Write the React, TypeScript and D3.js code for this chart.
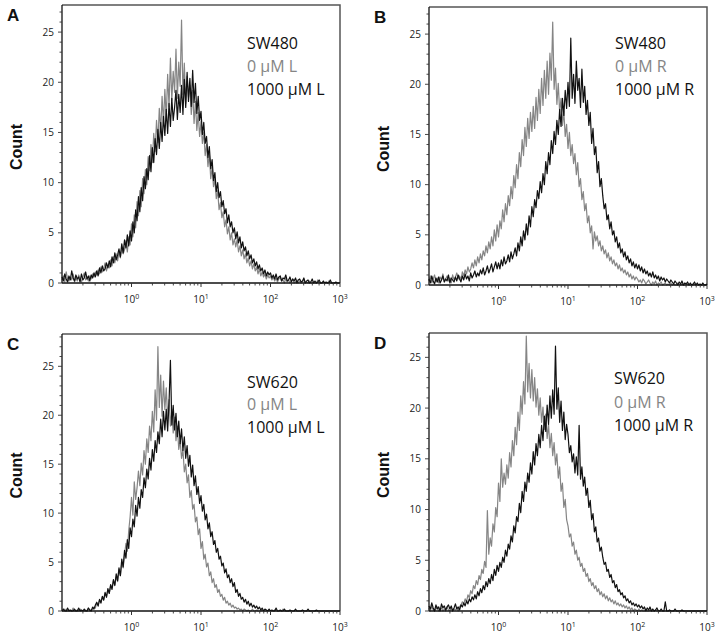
import React from "react";
import * as d3 from "d3";

// histogram channels: log10 of fluorescence, from 10^-1 to 10^3, 0.02 decade apart
const binLog = d3.range(201).map((i) => -1 + i * 0.02);

// A: SW480, L
const a0 = [
  0.3, 0.7, 0.1, 1.1, 0.4, 0.2, 0.6, 0.3, 0.9, 0.1, 0.5, 0.2, 0.8, 0.4, 0.1, 0.6, 1.0, 0.3, 0.5, 0.2, 0.7, 0.4, 0.9, 0.6, 1.1,
  0.8, 1.3, 0.9, 1.6, 1.1, 1.4, 2.0, 1.2, 1.8, 1.5, 2.3, 1.7, 2.6, 2.0, 2.9, 2.2, 3.1, 2.5, 3.6, 2.9, 3.3, 4.2, 3.1, 4.6, 3.8,
  5.9, 4.6, 6.8, 5.5, 8.1, 6.7, 9.2, 7.6, 10.4, 8.9, 11.3, 9.8, 12.6, 11.2, 13.8, 12.0, 14.9, 13.1, 16.2, 14.0, 17.4, 15.1, 18.6, 15.9, 19.3,
  16.4, 20.8, 17.6, 22.4, 18.2, 21.1, 19.0, 23.3, 18.4, 22.0, 19.6, 26.2, 18.8, 21.9, 17.9, 20.6, 18.5, 19.7, 16.8, 19.2, 15.9, 18.1, 15.2, 17.0, 14.6,
  16.1, 13.9, 15.0, 12.7, 13.8, 11.6, 12.9, 10.4, 11.5, 9.6, 10.3, 8.4, 9.2, 7.3, 8.0, 6.5, 7.1, 5.6, 6.3, 4.9, 5.6, 4.3, 5.0, 3.8, 4.4,
  3.6, 4.3, 3.1, 3.7, 2.7, 3.3, 2.4, 2.9, 2.0, 2.5, 1.7, 2.2, 1.4, 1.9, 1.2, 1.6, 0.9, 1.4, 0.7, 1.1, 0.6, 0.9, 0.4, 0.8, 0.5,
  0.7, 0.3, 0.6, 0.2, 0.5, 0.1, 0.4, 0.6, 0.2, 0.3, 0, 0.5, 0.1, 0.3, 0, 0.2, 0.4, 0, 0.1, 0.3, 0, 0.2, 0, 0.1, 0.3,
  0, 0.1, 0, 0.2, 0, 0, 0.1, 0, 0, 0.3, 0, 0, 0, 0.1, 0, 0, 0, 0.2, 0, 0, 0, 0, 0, 0, 0, 0,
];
const a1000 = [
  0.6, 0.2, 0.9, 0.4, 0.1, 0.7, 0.3, 1.2, 0.5, 0.2, 0.8, 0.4, 0.6, 0.1, 0.9, 0.3, 0.5, 1.1, 0.4, 0.7, 0.2, 0.8, 0.5, 1.0, 0.6,
  1.2, 0.7, 1.5, 1.0, 1.7, 1.2, 1.4, 2.0, 1.5, 2.2, 1.6, 2.6, 2.0, 3.0, 2.3, 2.8, 3.4, 2.6, 3.9, 3.0, 4.3, 3.5, 4.8, 3.7, 5.2,
  4.2, 6.1, 5.0, 7.3, 6.2, 8.6, 7.1, 9.5, 8.2, 10.6, 9.4, 11.4, 10.3, 12.7, 11.1, 13.5, 12.0, 14.4, 12.8, 15.3, 13.4, 16.0, 14.1, 16.6, 14.7,
  17.3, 14.9, 17.9, 15.6, 18.4, 16.2, 17.5, 19.2, 16.3, 18.8, 17.0, 19.7, 16.8, 20.3, 17.5, 21.0, 18.1, 20.4, 17.6, 21.2, 18.0, 19.9, 16.9, 18.6, 16.2,
  17.1, 14.8, 16.0, 13.9, 14.6, 12.5, 13.6, 11.4, 12.3, 10.2, 11.0, 9.1, 10.0, 8.5, 9.1, 7.6, 8.2, 6.9, 7.4, 6.0, 6.8, 5.6, 6.1, 5.0, 5.5,
  4.4, 5.1, 4.0, 4.6, 3.5, 4.1, 3.2, 3.6, 2.7, 3.2, 2.4, 2.8, 2.0, 2.4, 1.7, 2.1, 1.4, 1.8, 1.2, 1.5, 0.9, 1.3, 0.7, 1.1, 0.8,
  1.0, 0.5, 0.8, 0.4, 0.9, 0.3, 0.6, 0.7, 0.2, 0.5, 0.4, 0.8, 0.2, 0.3, 0.6, 0.1, 0.4, 0.2, 0.5, 0, 0.3, 0.4, 0.1, 0.2, 0.5,
  0, 0.2, 0.3, 0, 0.1, 0.4, 0, 0.2, 0, 0.1, 0.3, 0, 0, 0.2, 0, 0.1, 0, 0, 0.3, 0, 0, 0, 0.1, 0, 0, 0,
];

// B: SW480, R
const b0 = [
  0.4, 0.9, 0.2, 0.6, 1.0, 0.3, 0.7, 0.2, 0.8, 0.5, 1.1, 0.3, 0.6, 0.9, 0.4, 0.7, 0.2, 1.0, 0.5, 0.8, 1.2, 0.6, 0.9, 0.5, 1.3,
  0.9, 1.5, 1.1, 1.8, 1.3, 1.6, 2.2, 1.7, 2.5, 1.9, 2.8, 2.2, 3.1, 2.5, 3.4, 2.9, 3.9, 3.2, 4.3, 3.6, 4.8, 3.9, 5.5, 4.4, 6.0,
  4.8, 6.4, 5.6, 7.5, 6.3, 8.1, 7.0, 8.9, 7.9, 9.8, 8.6, 10.9, 9.7, 12.0, 10.6, 13.2, 11.8, 14.5, 12.9, 15.7, 13.8, 16.6, 14.6, 17.2, 15.3,
  17.8, 15.6, 18.7, 16.4, 19.5, 17.1, 20.6, 17.9, 21.4, 18.6, 22.3, 19.0, 23.1, 20.4, 26.2, 19.5, 21.6, 18.0, 20.1, 17.2, 18.6, 15.9, 17.3, 14.8, 16.0,
  13.6, 15.2, 12.9, 14.0, 12.1, 13.1, 11.0, 12.2, 9.8, 10.6, 8.5, 9.3, 7.4, 8.1, 6.2, 6.9, 5.2, 5.9, 3.6, 5.3, 4.4, 4.9, 3.9, 4.4, 3.4,
  3.9, 3.1, 3.5, 2.7, 3.2, 2.4, 2.8, 2.1, 2.5, 1.9, 2.2, 1.6, 2.0, 1.4, 1.7, 1.2, 1.5, 1.0, 1.3, 0.8, 1.1, 0.6, 0.9, 0.5, 0.8,
  0.6, 0.3, 0.5, 0.2, 0.6, 0.4, 0.1, 0.3, 0.5, 0.2, 0, 0.3, 0.1, 0.4, 0, 0.2, 0.1, 0.3, 0, 0.1, 0.2, 0, 0.1, 0, 0.2,
  0, 0.1, 0, 0, 0.2, 0, 0, 0.1, 0, 0, 0, 0.1, 0, 0, 0, 0, 0.1, 0, 0, 0, 0, 0, 0, 0, 0, 0,
];
const b1000 = [
  0.6, 0.2, 0.9, 0.4, 0.1, 0.7, 0.3, 0.8, 0.2, 0.5, 0.9, 0.3, 0.6, 0.4, 1.0, 0.2, 0.7, 0.5, 0.3, 0.8, 0.4, 1.0, 0.6, 0.3, 0.9,
  0.5, 1.1, 0.6, 0.9, 0.4, 1.2, 0.7, 1.0, 1.4, 0.8, 1.2, 0.9, 1.5, 1.1, 1.7, 1.0, 1.4, 1.9, 1.2, 1.6, 2.1, 1.3, 1.8, 2.3, 1.6,
  2.2, 1.6, 2.5, 1.9, 2.8, 2.1, 2.4, 3.0, 2.3, 3.3, 2.6, 3.1, 3.7, 2.9, 4.2, 3.4, 4.8, 3.9, 5.4, 4.5, 6.1, 5.0, 6.9, 5.8, 7.8,
  6.8, 8.5, 7.7, 9.4, 8.6, 10.3, 9.2, 11.1, 10.0, 12.3, 11.1, 13.2, 12.0, 14.4, 13.1, 15.3, 14.0, 16.4, 15.0, 17.5, 15.8, 18.6, 16.9, 19.4, 17.6,
  20.2, 17.8, 24.6, 18.6, 21.0, 18.1, 22.3, 19.4, 20.6, 17.7, 21.5, 18.2, 19.8, 17.0, 18.4, 15.9, 17.2, 14.1, 15.6, 13.0, 13.8, 11.2, 12.3, 9.8, 10.6,
  8.9, 7.6, 8.1, 6.5, 7.0, 5.6, 6.3, 5.0, 5.4, 4.3, 4.8, 3.7, 4.2, 3.2, 3.6, 2.8, 3.3, 2.5, 2.9, 2.2, 2.6, 1.9, 2.3, 1.7, 2.1,
  1.6, 2.0, 1.4, 1.8, 1.2, 1.6, 1.1, 1.4, 0.9, 1.2, 0.8, 1.3, 0.7, 1.0, 0.6, 0.9, 0.4, 0.8, 0.5, 0.7, 0.3, 0.6, 0.4, 0.2, 0.5,
  0.3, 0.1, 0.4, 0.2, 0, 0.3, 0.1, 0.4, 0, 0.2, 0.1, 0.3, 0, 0.2, 0, 0.1, 0.3, 0, 0.2, 0, 0.1, 0, 0.2, 0, 0, 0.1,
];

// C: SW620, L
const c0 = [
  0, 0, 0.2, 0, 0, 0.1, 0, 0, 0.3, 0, 0, 0.1, 0, 0.2, 0, 0, 0, 0.1, 0, 0.3, 0, 0.1, 0.2, 0.4, 0.3,
  0.8, 0.6, 1.1, 0.9, 1.4, 1.2, 1.8, 1.5, 2.1, 1.8, 2.6, 2.4, 3.1, 2.7, 3.5, 3.0, 4.2, 3.6, 4.9, 4.4, 5.8, 6.9, 6.1, 8.2, 9.6,
  11.6, 9.8, 13.2, 11.4, 12.6, 14.3, 12.8, 15.1, 13.9, 16.4, 15.0, 17.6, 16.2, 18.9, 17.4, 20.4, 18.3, 22.6, 19.5, 27.0, 20.8, 24.1, 19.9, 23.5, 20.6,
  22.8, 19.7, 21.6, 18.9, 20.6, 18.2, 19.8, 17.4, 18.9, 16.5, 17.4, 15.6, 16.5, 14.2, 15.0, 13.1, 13.9, 11.6, 12.3, 10.4, 10.9, 9.1, 9.6, 7.8, 8.4,
  6.4, 7.1, 5.3, 5.8, 4.5, 4.9, 3.6, 4.0, 2.9, 3.3, 2.4, 2.7, 1.9, 2.2, 1.5, 1.7, 1.1, 1.4, 0.8, 1.0, 0.6, 0.8, 0.4, 0.6, 0.3,
  0.4, 0.2, 0.3, 0.1, 0.2, 0, 0.2, 0.1, 0, 0.1, 0, 0, 0.2, 0, 0, 0.1, 0, 0, 0, 0.1, 0, 0, 0, 0, 0.1,
  0, 0, 0, 0.1, 0, 0, 0, 0, 0, 0.2, 0, 0, 0, 0, 0, 0, 0, 0, 0, 0, 0, 0, 0, 0, 0,
  0, 0, 0, 0, 0, 0, 0, 0, 0, 0, 0, 0, 0, 0, 0, 0, 0, 0, 0, 0, 0, 0, 0, 0, 0, 0,
];
const c1000 = [
  0, 0.2, 0, 0, 0.3, 0, 0.1, 0, 0, 0.2, 0, 0, 0.3, 0, 0.1, 0, 0.2, 0, 0, 0.3, 0.1, 0, 0.4, 0.2, 0.6,
  0.9, 0.5, 1.2, 0.8, 1.5, 1.1, 1.9, 1.4, 2.3, 1.8, 2.7, 2.2, 3.2, 2.6, 3.8, 3.1, 4.4, 3.6, 5.3, 4.5, 6.2, 5.4, 7.3, 6.4, 8.5,
  7.6, 9.4, 8.6, 10.8, 9.7, 11.6, 10.5, 12.4, 11.6, 13.6, 12.6, 14.5, 13.5, 15.6, 14.4, 16.5, 15.3, 17.4, 16.2, 18.3, 17.1, 19.6, 17.8, 20.4, 18.5,
  20.6, 18.4, 21.3, 25.6, 19.0, 21.0, 18.5, 20.2, 17.8, 19.4, 17.1, 18.6, 16.4, 17.8, 15.6, 16.9, 14.8, 15.9, 13.7, 14.9, 12.8, 13.8, 11.9, 12.7, 11.0,
  11.8, 10.2, 10.9, 9.3, 9.9, 8.4, 9.0, 7.6, 8.1, 6.8, 7.2, 6.0, 6.4, 5.3, 5.6, 4.6, 4.9, 3.9, 4.3, 3.4, 3.7, 2.9, 3.3, 2.5, 2.9,
  1.9, 2.2, 1.5, 1.8, 1.2, 1.4, 0.9, 1.2, 0.7, 1.0, 0.5, 0.8, 0.4, 0.6, 0.3, 0.5, 0.2, 0.4, 0.1, 0.3, 0, 0.2, 0.1, 0, 0.2,
  0, 0.1, 0, 0, 0.3, 0, 0, 0.1, 0, 0, 0.2, 0, 0, 0, 0.1, 0, 0, 0, 0.2, 0, 0, 0, 0, 0.1, 0,
  0, 0, 0.2, 0, 0, 0, 0, 0, 0.1, 0, 0, 0, 0, 0, 0, 0, 0, 0, 0, 0, 0, 0, 0, 0, 0, 0,
];

// D: SW620, R
const d0 = [
  0.3, 0, 0.5, 0.1, 0, 0.2, 0.4, 0, 0.1, 0.3, 0, 0.2, 0, 0.4, 0.1, 0, 0.3, 0, 0.2, 0.1, 0.3, 0, 0.4, 0.6, 0.9,
  0.7, 1.2, 0.9, 1.6, 1.3, 2.0, 1.7, 2.5, 2.2, 3.0, 2.6, 3.5, 3.1, 4.1, 3.7, 4.9, 4.3, 9.9, 5.6, 7.2, 6.4, 8.6, 7.8, 10.2, 9.3,
  12.6, 10.8, 15.0, 12.2, 13.6, 12.5, 14.4, 13.1, 15.6, 14.2, 16.8, 15.3, 18.1, 16.4, 19.6, 17.8, 21.2, 19.4, 22.6, 20.4, 27.1, 21.6, 24.4, 21.0, 23.8,
  20.7, 23.0, 20.1, 21.9, 19.3, 21.0, 18.6, 20.1, 17.9, 19.4, 17.0, 18.4, 16.1, 17.5, 15.3, 16.6, 14.4, 15.5, 13.1, 14.2, 11.8, 12.6, 10.2, 11.0, 9.0,
  8.4, 7.3, 7.6, 6.4, 6.8, 5.6, 6.0, 5.0, 5.3, 4.4, 4.7, 3.9, 4.2, 3.4, 3.7, 2.9, 3.2, 2.5, 2.8, 2.2, 2.5, 1.9, 2.2, 1.6, 1.9,
  1.4, 1.7, 1.2, 1.5, 1.0, 1.3, 0.9, 1.1, 0.7, 1.0, 0.6, 0.8, 0.5, 0.7, 0.4, 0.6, 0.3, 0.5, 0.2, 0.4, 0.1, 0.3, 0, 0.2, 0.1,
  0, 0.2, 0, 0.1, 0, 0, 0.2, 0, 0, 0.1, 0, 0, 0, 0.1, 0, 0, 0, 0, 0, 0, 0, 0, 0, 0, 0,
  0, 0, 0, 0, 0, 0, 0, 0, 0, 0, 0, 0, 0, 0, 0, 0, 0, 0, 0, 0, 0, 0, 0, 0, 0, 0,
];
const d1000 = [
  0.5, 0.2, 0.8, 0.3, 0, 0.6, 0.2, 0.4, 0, 0.7, 0.3, 0.5, 0.1, 0.4, 0.6, 0.2, 0.5, 0, 0.3, 0.7, 0.2, 0.4, 0.1, 0.6, 0.4,
  0.8, 0.5, 1.0, 0.7, 1.2, 0.9, 1.4, 1.1, 1.6, 1.2, 1.9, 1.5, 2.2, 1.8, 2.5, 2.1, 2.9, 2.4, 3.2, 2.7, 3.6, 3.0, 4.1, 3.5, 4.5,
  3.9, 4.8, 4.3, 5.3, 4.8, 6.0, 5.4, 6.6, 6.1, 7.4, 6.8, 8.4, 7.7, 9.3, 8.8, 10.6, 9.7, 11.8, 10.8, 12.7, 11.8, 13.6, 12.7, 14.6, 13.5,
  15.7, 14.4, 16.5, 15.3, 17.4, 16.1, 18.3, 16.8, 19.2, 17.7, 20.3, 18.4, 21.2, 19.0, 21.8, 19.4, 26.1, 19.9, 22.0, 18.6, 20.7, 17.8, 19.6, 16.9, 18.4,
  17.4, 15.6, 16.3, 14.7, 15.5, 13.6, 15.2, 13.4, 18.3, 13.0, 14.2, 12.3, 13.2, 11.4, 12.1, 10.2, 10.9, 9.0, 9.6, 7.8, 8.3, 6.8, 7.2, 5.9, 6.3,
  5.3, 4.6, 4.8, 3.9, 4.1, 3.3, 3.6, 2.8, 3.0, 2.3, 2.6, 1.9, 2.1, 1.6, 1.8, 1.3, 1.5, 1.0, 1.2, 0.8, 1.0, 0.6, 0.8, 0.5, 0.7,
  0.4, 0.6, 0.3, 0.5, 0.2, 0.4, 0, 0.3, 0.1, 0.4, 0, 0.2, 0, 0.1, 0.3, 0, 0, 0.2, 0, 0, 0.9, 0, 0, 0.1, 0,
  0, 0, 0.2, 0, 0, 0, 0, 0.1, 0, 0, 0, 0, 0, 0, 0, 0, 0, 0, 0, 0, 0, 0, 0, 0, 0, 0,
];

const panelLetters = ["A", "B", "C", "D"];
const cellLines = ["SW480", "SW480", "SW620", "SW620"];
const lowLabels = ["0 µM L", "0 µM R", "0 µM L", "0 µM R"];
const highLabels = ["1000 µM L", "1000 µM R", "1000 µM L", "1000 µM R"];
const lowSeries = [a0, b0, c0, d0];
const highSeries = [a1000, b1000, c1000, d1000];
const yTicks = [0, 5, 10, 15, 20, 25];
const xExponents = [0, 1, 2, 3];

// pixel layout of each panel
const layout = [
  { x0: 62, x1: 340, top: 5, bottom: 283, yMax: 27.7, legX: 247, legY: [49, 72, 95] },
  { x0: 429, x1: 707, top: 7, bottom: 285, yMax: 27.7, legX: 615, legY: [49, 72, 95] },
  { x0: 62, x1: 340, top: 334, bottom: 611, yMax: 28.3, legX: 247, legY: [388, 410, 433] },
  { x0: 429, x1: 707, top: 333, bottom: 611, yMax: 27.4, legX: 614, legY: [384, 408, 431] },
];

const GRAY = "#858585";
const INK = "#111";

const Panel = ({ idx }: { idx: number }) => {
  const L = layout[idx];
  const x = d3.scaleLog().domain([0.1, 1000]).range([L.x0, L.x1]);
  const y = d3.scaleLinear().domain([0, L.yMax]).range([L.bottom, L.top]);
  const line = d3
    .line<number>()
    .defined((_, j) => j < binLog.length)
    .x((_, j) => x(Math.pow(10, binLog[j])))
    .y((d) => y(d));

  const minorX: number[] = [];
  [-1, 0, 1, 2].forEach((k) => {
    for (let m = 2; m <= 9; m++) minorX.push(m * Math.pow(10, k));
  });
  const minorY = d3.range(0, Math.floor(L.yMax) + 1);

  return (
    <g>
      <text x={L.x0 - 55} y={L.top + 16} fontFamily="Liberation Sans, Arial, sans-serif" fontWeight="bold" fontSize={17} fill={INK}>
        {panelLetters[idx]}
      </text>
      <text
        transform={`translate(${L.x0 - 40},${(L.top + L.bottom) / 2 + 3}) rotate(-90)`}
        textAnchor="middle"
        fontFamily="Liberation Sans, Arial, sans-serif"
        fontWeight="bold"
        fontSize={16}
        fill={INK}
      >
        Count
      </text>

      {/* frame */}
      <path d={`M${L.x0},${L.top}H${L.x1}V${L.bottom}`} fill="none" stroke="#555" strokeWidth={1.5} />

      {/* curves */}
      <path d={line(lowSeries[idx]) || ""} fill="none" stroke={GRAY} strokeWidth={1.2} strokeLinejoin="round" />
      <path d={line(highSeries[idx]) || ""} fill="none" stroke={INK} strokeWidth={1.2} strokeLinejoin="round" />

      {/* y axis */}
      <line x1={L.x0} x2={L.x0} y1={L.top} y2={L.bottom} stroke={INK} strokeWidth={1.3} />
      {minorY.map((v) => (
        <line key={`ym${v}`} x1={L.x0 - (v % 5 === 0 ? 4 : 2.5)} x2={L.x0} y1={y(v)} y2={y(v)} stroke="#333" strokeWidth={0.9} />
      ))}
      {yTicks.map((v) => (
        <text key={`yt${v}`} x={L.x0 - 8} y={y(v) + 3.5} textAnchor="end" fontFamily="Open Sans, sans-serif" fontSize={10} fill="#222">
          {v}
        </text>
      ))}

      {/* x axis */}
      <line x1={L.x0} x2={L.x1} y1={L.bottom} y2={L.bottom} stroke={INK} strokeWidth={1.3} />
      {minorX.map((v) => (
        <line key={`xm${v}`} x1={x(v)} x2={x(v)} y1={L.bottom} y2={L.bottom + 2.5} stroke="#333" strokeWidth={0.9} />
      ))}
      {xExponents.map((e) => (
        <g key={`xt${e}`}>
          <line x1={x(Math.pow(10, e))} x2={x(Math.pow(10, e))} y1={L.bottom} y2={L.bottom + 4} stroke="#333" strokeWidth={1} />
          <text x={x(Math.pow(10, e))} y={L.bottom + 20} textAnchor="middle" fontFamily="Open Sans, sans-serif" fontSize={10} fill="#222">
            10<tspan dy={-4} fontSize={7}>{e}</tspan>
          </text>
        </g>
      ))}

      {/* legend */}
      <text x={L.legX} y={L.legY[0]} fontFamily="Open Sans, sans-serif" fontSize={16} fill={INK}>
        {cellLines[idx]}
      </text>
      <text x={L.legX} y={L.legY[1]} fontFamily="Open Sans, sans-serif" fontSize={16} fill={GRAY}>
        {lowLabels[idx]}
      </text>
      <text x={L.legX} y={L.legY[2]} fontFamily="Open Sans, sans-serif" fontSize={16} fill={INK}>
        {highLabels[idx]}
      </text>
    </g>
  );
};

const App = () => {
  return (
    <div style={{ position: "absolute", left: 0, top: 0 }}>
      <svg width={718} height={638} style={{ display: "block", background: "#fff" }}>
        {panelLetters.map((p, i) => (
          <Panel key={p} idx={i} />
        ))}
      </svg>
    </div>
  );
};

export default App;
